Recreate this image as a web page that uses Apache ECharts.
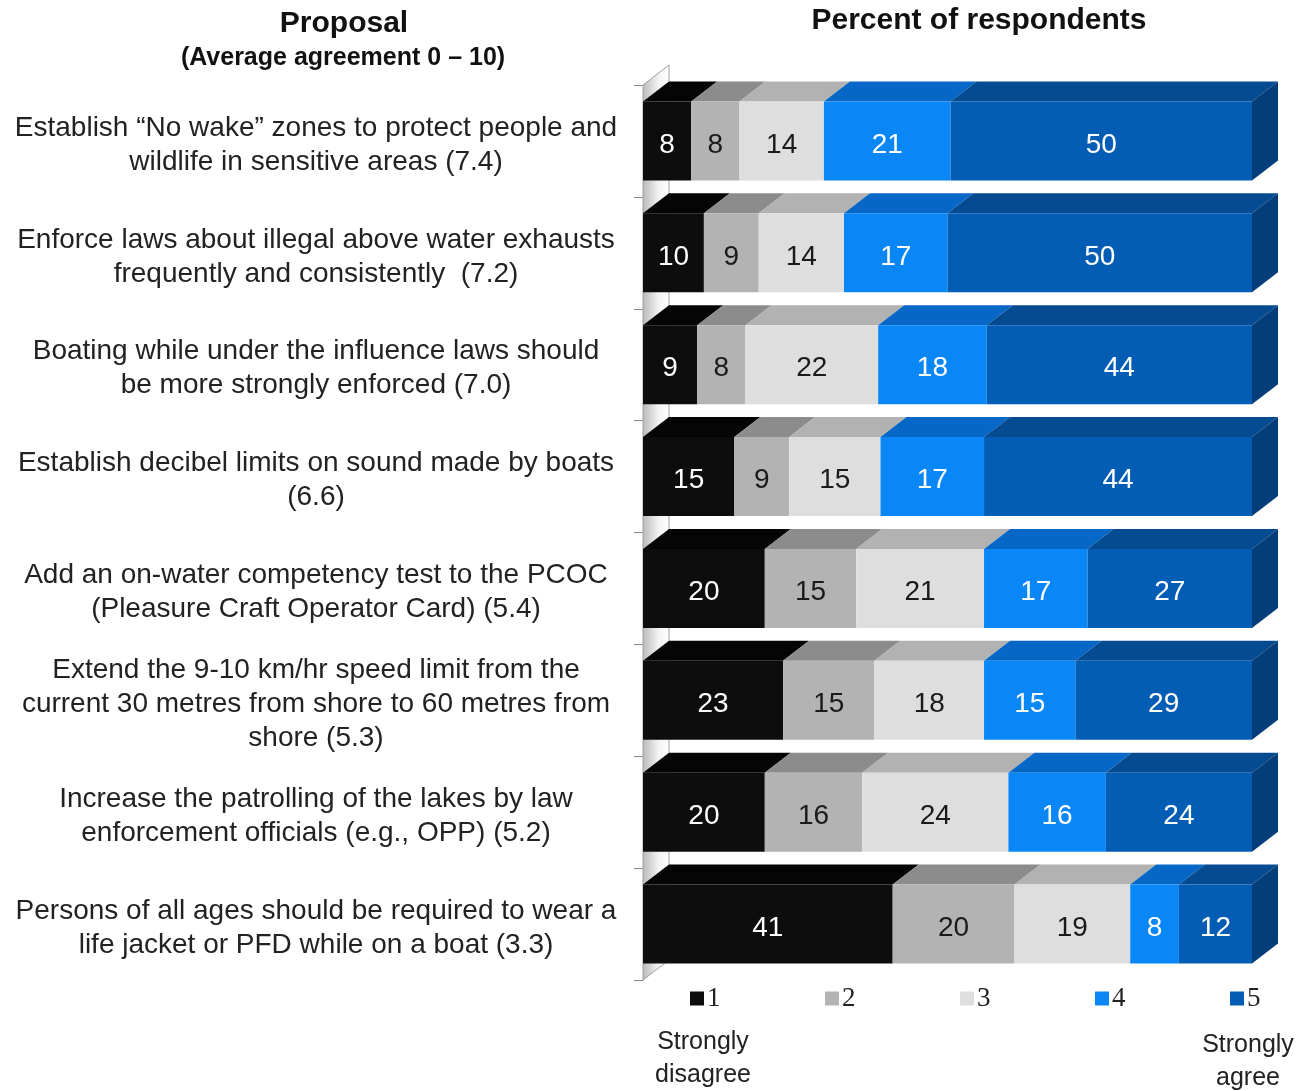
<!DOCTYPE html>
<html>
<head>
<meta charset="utf-8">
<script src="https://cdn.jsdelivr.net/npm/echarts@6/dist/echarts.min.js"></script>
<style>
html,body{margin:0;padding:0;background:#fff;}
#chart{width:1302px;height:1091px;}
</style>
</head>
<body>
<div id="chart"></div>
<script>
// ---------- data ----------
const categories = [
  'Establish \u201cNo wake\u201d zones to protect people and\nwildlife in sensitive areas (7.4)',
  'Enforce laws about illegal above water exhausts\nfrequently and consistently  (7.2)',
  'Boating while under the influence laws should\nbe more strongly enforced (7.0)',
  'Establish decibel limits on sound made by boats\n(6.6)',
  'Add an on-water competency test to the PCOC\n(Pleasure Craft Operator Card) (5.4)',
  'Extend the 9-10 km/hr speed limit from the\ncurrent 30 metres from shore to 60 metres from\nshore (5.3)',
  'Increase the patrolling of the lakes by law\nenforcement officials (e.g., OPP) (5.2)',
  'Persons of all ages should be required to wear a\nlife jacket or PFD while on a boat (3.3)'
];
const levelNames = ['1', '2', '3', '4', '5'];
const level1 = [8, 10, 9, 15, 20, 23, 20, 41];
const level2 = [8, 9, 8, 9, 15, 15, 16, 20];
const level3 = [14, 14, 22, 15, 21, 18, 24, 19];
const level4 = [21, 17, 18, 17, 17, 15, 16, 8];
const level5 = [50, 50, 44, 44, 27, 29, 24, 12];
const levels = [level1, level2, level3, level4, level5];

// ---------- styles ----------
const FRONT = ['#0d0d0d', '#b3b3b3', '#dedede', '#0a87f7', '#045db4'];
const TOP   = ['#050505', '#8c8c8c', '#b2b2b2', '#0667c6', '#044b91'];
const SIDE  = ['#000000', '#7a7a7a', '#9e9e9e', '#0558a8', '#033d7a'];
const LABEL = ['#ffffff', '#1a1a1a', '#1a1a1a', '#ffffff', '#ffffff'];
const DX = 26, DY = 20, BAR_RATIO = 0.706;
const FONT = '"Liberation Sans", Arial, sans-serif';

// build stacked (row-normalised to 100%) segments
const seriesData = levels.map(() => []);
categories.forEach((c, ci) => {
  let total = 0; levels.forEach(l => total += l[ci]);
  let acc = 0;
  levels.forEach((l, li) => {
    const s = acc / total * 100; acc += l[ci];
    const e = acc / total * 100;
    seriesData[li].push([ci, s, e, l[ci]]);
  });
});

function makeRender(li) {
  return function (params, api) {
    const cat = api.value(0);
    const p0 = api.coord([api.value(1), cat]);
    const p1 = api.coord([api.value(2), cat]);
    const band = api.size([0, 1])[1];
    const h = band * BAR_RATIO;
    const yT = p0[1] - h / 2, yB = p0[1] + h / 2;
    const xa = p0[0], xb = p1[0];
    const children = [
      { type: 'polygon', shape: { points: [[xa, yT], [xb, yT], [xb + DX, yT - DY], [xa + DX, yT - DY]] },
        style: { fill: TOP[li] } },
      { type: 'rect', shape: { x: xa, y: yT, width: xb - xa, height: h }, style: { fill: FRONT[li] } }
    ];
    if (li === levels.length - 1) {
      children.push({ type: 'polygon', shape: { points: [[xb, yT], [xb + DX, yT - DY], [xb + DX, yB - DY], [xb, yB]] },
        style: { fill: SIDE[li] } });
    }
    children.push({ type: 'text', style: { text: String(api.value(3)), x: (xa + xb) / 2, y: p0[1] + 4,
      textAlign: 'center', textVerticalAlign: 'middle', font: '28px ' + FONT, fill: LABEL[li] } });
    return { type: 'group', children: children };
  };
}

function renderWall(params, api) {
  const cs = params.coordSys;
  const x = cs.x, yT = cs.y, yB = cs.y + cs.height;
  return {
    type: 'polygon',
    shape: { points: [[x, yT], [x + DX, yT - DY], [x + DX, yB - DY], [x, yB]] },
    style: {
      fill: new echarts.graphic.LinearGradient(0, 0, 1, 0, [
        { offset: 0, color: '#b8b8b8' }, { offset: 0.6, color: '#f4f4f4' }, { offset: 1, color: '#ffffff' }
      ]),
      stroke: '#a0a0a0', lineWidth: 1
    },
    z2: -1
  };
}

const series = [{
  type: 'custom', name: 'wall', silent: true, renderItem: renderWall, data: [[0]], z: 1,
  encode: { x: [], y: [] }
}];
levelNames.forEach((n, li) => {
  series.push({
    type: 'custom', name: n, renderItem: makeRender(li), data: seriesData[li],
    itemStyle: { color: FRONT[li] }, encode: { x: [1, 2], y: 0 }, z: 2
  });
});

const legendX = [685, 820, 955, 1090, 1225];
const legends = levelNames.map((n, i) => ({
  data: [n], left: legendX[i], top: 980, icon: 'rect', itemWidth: 14, itemHeight: 14,
  itemGap: 0, textStyle: { fontFamily: '"Liberation Serif", "Times New Roman", serif', fontSize: 27, color: '#222', padding: [0, 0, 0, -2] },
  selectedMode: false
}));

const chart = echarts.init(document.getElementById('chart'), null, { renderer: 'canvas' });
chart.setOption({
  animation: false,
  backgroundColor: '#ffffff',
  grid: { left: 643, right: 50, top: 85, bottom: 111, containLabel: false },
  xAxis: { type: 'value', min: 0, max: 100, show: false },
  yAxis: {
    type: 'category', data: categories, inverse: true,
    axisLine: { show: true, lineStyle: { color: '#9a9a9a', width: 1 } },
    axisTick: { show: true, length: 9, lineStyle: { color: '#8a8a8a' } },
    axisLabel: {
      margin: 327, align: 'center', color: '#222',
      formatter: v => '{s| }\n' + v.split('\n').map(l => '{t|' + l + '}').join('\n'),
      rich: {
        s: { fontSize: 6, lineHeight: 8 },
        t: { fontFamily: FONT, fontSize: 28, lineHeight: 34, color: '#222' }
      }
    },
    splitLine: { show: false }
  },
  legend: legends,
  series: series,
  graphic: [
    { type: 'text', style: { text: 'Proposal', x: 344, y: 9, textAlign: 'center', font: 'bold 30px ' + FONT, fill: '#111' } },
    { type: 'text', style: { text: '(Average agreement 0 \u2013 10)', x: 343, y: 46, textAlign: 'center', font: 'bold 25px ' + FONT, fill: '#111' } },
    { type: 'text', style: { text: 'Percent of respondents', x: 979, y: 6, textAlign: 'center', font: 'bold 30px ' + FONT, fill: '#111' } },
    { type: 'text', style: { text: 'Strongly\ndisagree', x: 703, y: 1026, textAlign: 'center', font: '25px ' + FONT, lineHeight: 33, fill: '#222' } },
    { type: 'text', style: { text: 'Strongly\nagree', x: 1248, y: 1029, textAlign: 'center', font: '25px ' + FONT, lineHeight: 33, fill: '#222' } }
  ]
});
</script>
</body>
</html>
